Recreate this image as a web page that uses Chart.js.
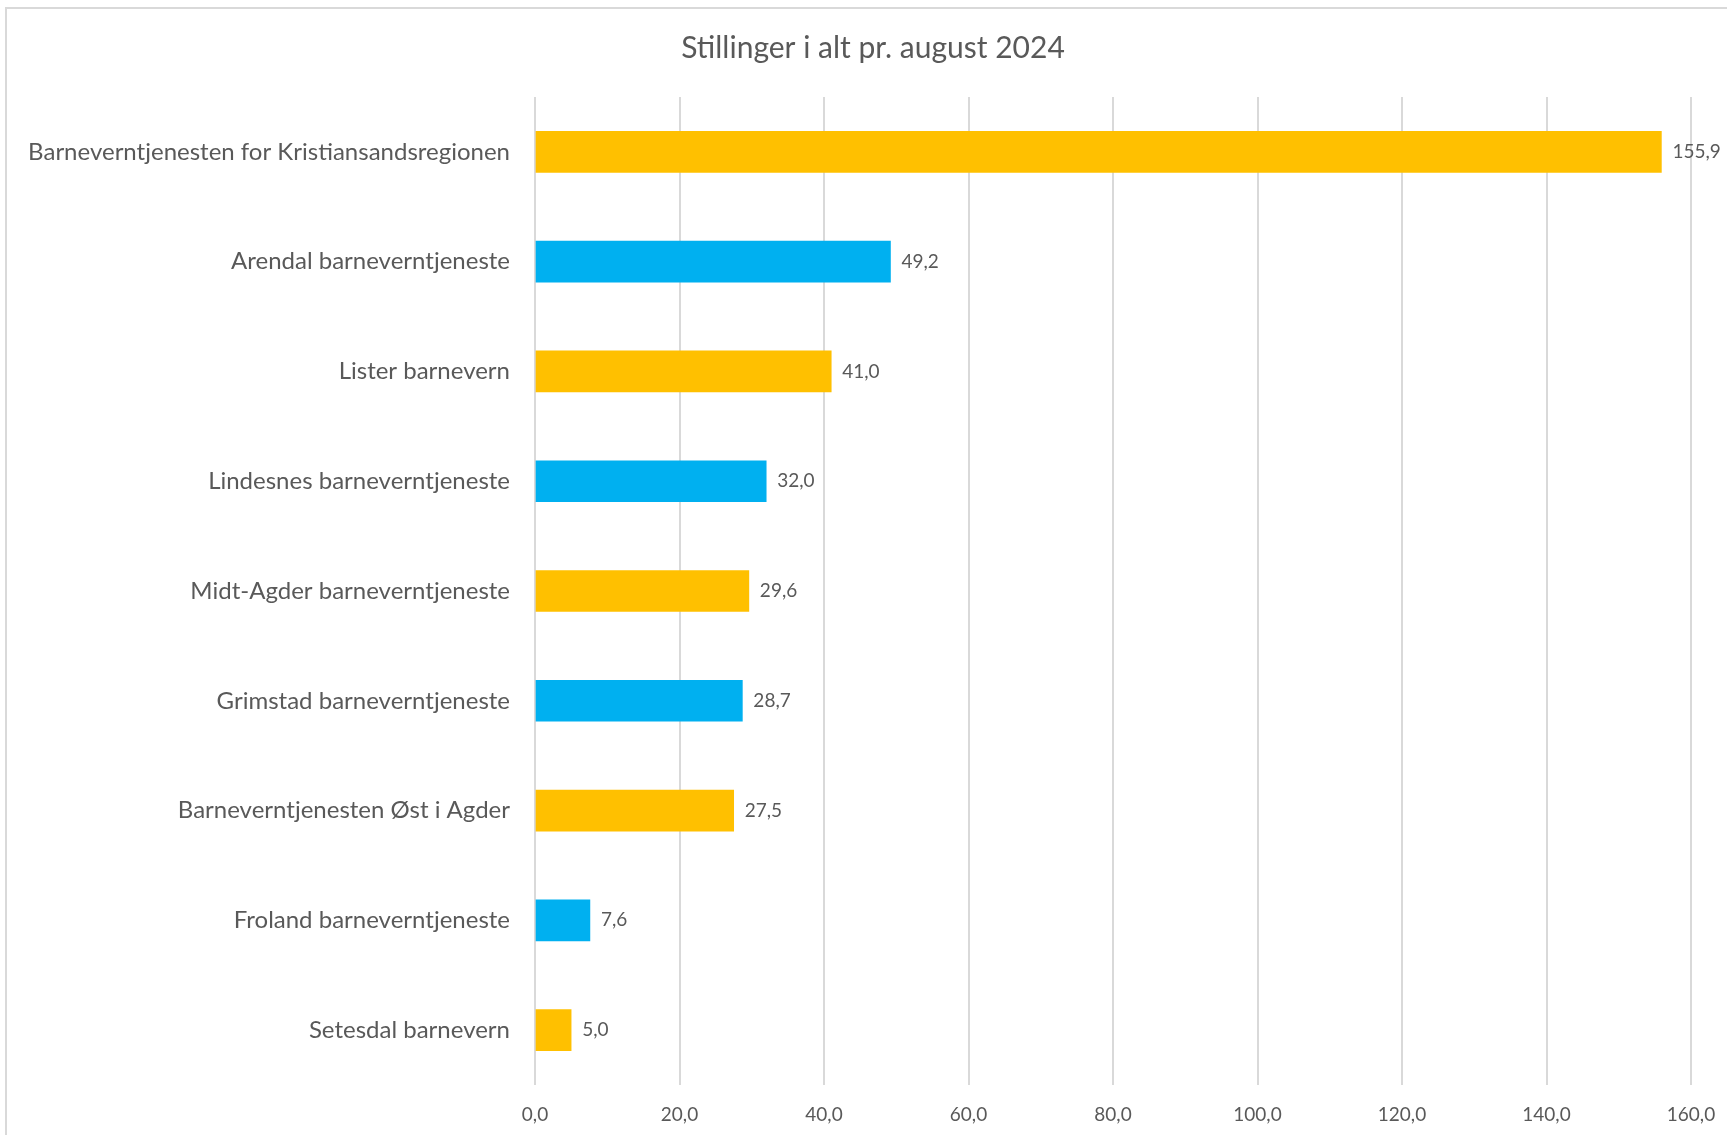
<!DOCTYPE html>
<html>
<head>
<meta charset="utf-8">
<script src="https://cdn.jsdelivr.net/npm/chart.js@4/dist/chart.umd.min.js"></script>
<style>
  html, body { margin: 0; padding: 0; background: #ffffff; overflow: hidden; }
  #wrap { position: absolute; left: 0; top: 0; width: 1727px; height: 1135px; }
  #frame { position: absolute; left: 5px; top: 7px; width: 1800px; height: 1300px;
           border: 2px solid #d9d9d9; pointer-events: none; }
</style>
</head>
<body>
<div id="wrap">
  <canvas id="c" width="1727" height="1135"></canvas>
  <div id="frame"></div>
</div>
<script>
const title = 'Stillinger i alt pr. august 2024';
const categories = [
  'Barneverntjenesten for Kristiansandsregionen',
  'Arendal barneverntjeneste',
  'Lister barnevern',
  'Lindesnes barneverntjeneste',
  'Midt-Agder barneverntjeneste',
  'Grimstad barneverntjeneste',
  'Barneverntjenesten Øst i Agder',
  'Froland barneverntjeneste',
  'Setesdal barnevern'
];
const values = [155.9, 49.2, 41.0, 32.0, 29.6, 28.7, 27.5, 7.6, 5.0];
const xTicks = [0, 20, 40, 60, 80, 100, 120, 140, 160];

const GOLD = '#FFC000', BLUE = '#00B0F0';
const barColors = categories.map((_, i) => (i % 2 === 0 ? GOLD : BLUE));
const TEXT = '#595959';
const FONT = "Lato, 'Open Sans', sans-serif";
const fmt = v => v.toFixed(1).replace('.', ',');

const valueLabels = {
  id: 'valueLabels',
  afterDatasetsDraw(chart) {
    const ctx = chart.ctx;
    const meta = chart.getDatasetMeta(0);
    ctx.save();
    ctx.font = '19px ' + FONT;
    ctx.fillStyle = TEXT;
    ctx.textAlign = 'left';
    ctx.textBaseline = 'middle';
    meta.data.forEach((el, i) => {
      ctx.fillText(fmt(chart.data.datasets[0].data[i]), el.x + 11, el.y);
    });
    ctx.restore();
  }
};

const chartTitle = {
  id: 'chartTitle',
  afterDraw(chart) {
    const ctx = chart.ctx;
    ctx.save();
    ctx.font = '30px ' + FONT;
    ctx.fillStyle = TEXT;
    ctx.textAlign = 'center';
    ctx.textBaseline = 'middle';
    ctx.fillText(title, 873, 48);
    ctx.restore();
  }
};

new Chart(document.getElementById('c'), {
  type: 'bar',
  data: {
    labels: categories,
    datasets: [{
      data: values,
      backgroundColor: barColors,
      borderWidth: 0,
      barThickness: 41
    }]
  },
  options: {
    indexAxis: 'y',
    responsive: false,
    animation: false,
    layout: { padding: { left: 0, right: 36, top: 97, bottom: 0 } },
    plugins: {
      legend: { display: false },
      tooltip: { enabled: false },
      title: { display: false }
    },
    scales: {
      x: {
        min: 0, max: 160,
        afterBuildTicks(scale) { scale.ticks = xTicks.map(v => ({ value: v })); },
        afterFit(scale) { scale.height = 50; scale.paddingLeft = 0; scale.paddingRight = 0; },
        grid: { color: '#d9d9d9', lineWidth: 2, drawTicks: false },
        border: { display: false },
        ticks: {
          color: TEXT,
          padding: 18,
          font: { family: FONT, size: 19 },
          callback: v => fmt(v)
        }
      },
      y: {
        afterFit(scale) { scale.width = 535; },
        grid: { display: false, drawTicks: false },
        border: { display: false },
        ticks: {
          color: TEXT,
          padding: 25,
          font: { family: FONT, size: 24 }
        }
      }
    }
  },
  plugins: [valueLabels, chartTitle]
});
</script>
</body>
</html>
